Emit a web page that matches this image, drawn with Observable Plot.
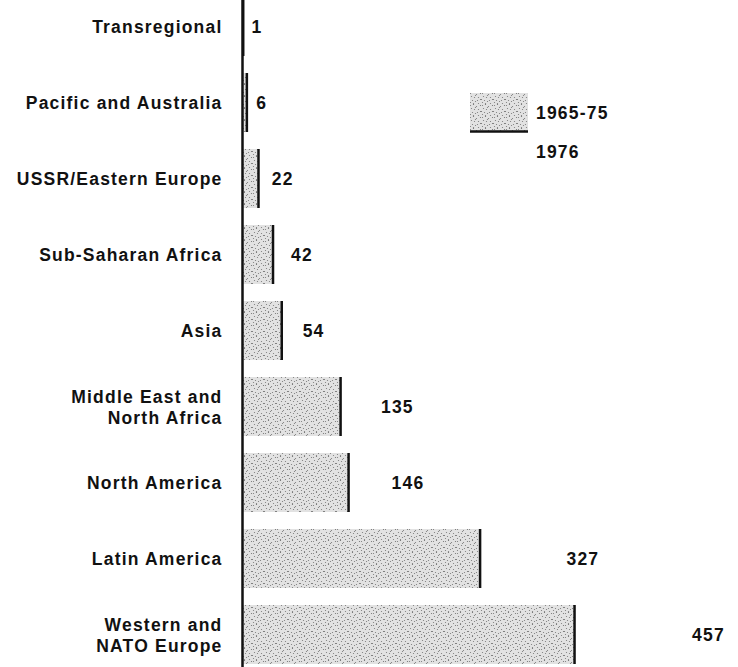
<!DOCTYPE html>
<html>
<head>
<meta charset="utf-8">
<script src="https://cdn.jsdelivr.net/npm/d3@7"></script>
<script src="https://cdn.jsdelivr.net/npm/@observablehq/plot@0.6"></script>
<style>
  html, body { margin: 0; padding: 0; background: #fff; }
  #wrap { position: relative; width: 738px; height: 667px; overflow: hidden; }
  #wrap svg text { letter-spacing: 1.2px; }
  .leg { position: absolute; font-family: "Liberation Sans", Arial, sans-serif; font-weight: bold; font-size: 17.5px; color: #111; letter-spacing: 1.2px; line-height: 1; }
</style>
</head>
<body>
<div id="wrap"></div>
<script>
// ---- data ----
const regions = [
  "Transregional",
  "Pacific and Australia",
  "USSR/Eastern Europe",
  "Sub-Saharan Africa",
  "Asia",
  "Middle East and\nNorth Africa",
  "North America",
  "Latin America",
  "Western and\nNATO Europe"
];
const values = [1, 6, 22, 42, 54, 135, 146, 327, 457];
const legendLabels = ["1965-75", "1976"];

const data = regions.map((r, i) => ({region: r, value: values[i]}));

const chart = Plot.plot({
  width: 738,
  height: 667,
  marginLeft: 242,
  marginRight: 31,
  marginTop: 0,
  marginBottom: 0,
  style: {fontFamily: "'Liberation Sans', Arial, sans-serif", color: "#111", background: "#fff"},
  x: {domain: [0, 640], axis: null},
  y: {domain: regions, range: [-5, 666], paddingInner: 0.23, paddingOuter: 0, label: null},
  marks: [
    Plot.barX(data, {x: "value", y: "region", fill: "url(#stipple)"}),
    Plot.tickX(data, {x: "value", y: "region", stroke: "#111", strokeWidth: 2.5}),
    Plot.ruleX([0], {stroke: "#111", strokeWidth: 2.5}),
    // value labels are set progressively further right, as in the original layout
    Plot.text(data, {
      x: d => d.value * 1.33 + 11,
      y: "region",
      text: d => String(d.value),
      textAnchor: "start",
      fontSize: 17.5,
      fontWeight: "bold",
      fill: "#111"
    }),
    Plot.axisY({
      tickSize: 0,
      tickPadding: 20,
      fontSize: 17.5,
      fontWeight: "bold",
      lineHeight: 1.15,
      label: null
    })
  ]
});

// stipple pattern used for the 1965-75 bars
const dots = [[1,1],[4,0],[7,2],[9,5],[2,4],[5,5],[8,8],[0,7],[3,8],[6,9],[1,10],[4,11],[9,11],[11,1],[11,7],[6,3]];
const defs = d3.select(chart).insert("defs", ":first-child");
const pat = defs.append("pattern").attr("id", "stipple").attr("patternUnits", "userSpaceOnUse")
  .attr("width", 12).attr("height", 12);
pat.append("rect").attr("width", 12).attr("height", 12).attr("fill", "#e2e2e2");
pat.selectAll("circle").data(dots).join("circle")
  .attr("cx", d => d[0] + 0.5).attr("cy", d => d[1] + 0.5).attr("r", 0.6).attr("fill", "#7a7a7a");

const wrap = document.getElementById("wrap");
wrap.appendChild(chart);

// legend
const legSvg = d3.create("svg").attr("width", 60).attr("height", 42)
  .style("position", "absolute").style("left", "469px").style("top", "92px");
legSvg.append("rect").attr("x", 1).attr("y", 1).attr("width", 58).attr("height", 38).attr("fill", "url(#stipple)");
legSvg.append("line").attr("x1", 1).attr("x2", 59).attr("y1", 39.5).attr("y2", 39.5)
  .attr("stroke", "#111").attr("stroke-width", 2.5);
wrap.appendChild(legSvg.node());

const l1 = document.createElement("div");
l1.className = "leg"; l1.textContent = legendLabels[0];
l1.style.left = "536px"; l1.style.top = "105px";
wrap.appendChild(l1);
const l2 = document.createElement("div");
l2.className = "leg"; l2.textContent = legendLabels[1];
l2.style.left = "536px"; l2.style.top = "144px";
wrap.appendChild(l2);
</script>
</body>
</html>
